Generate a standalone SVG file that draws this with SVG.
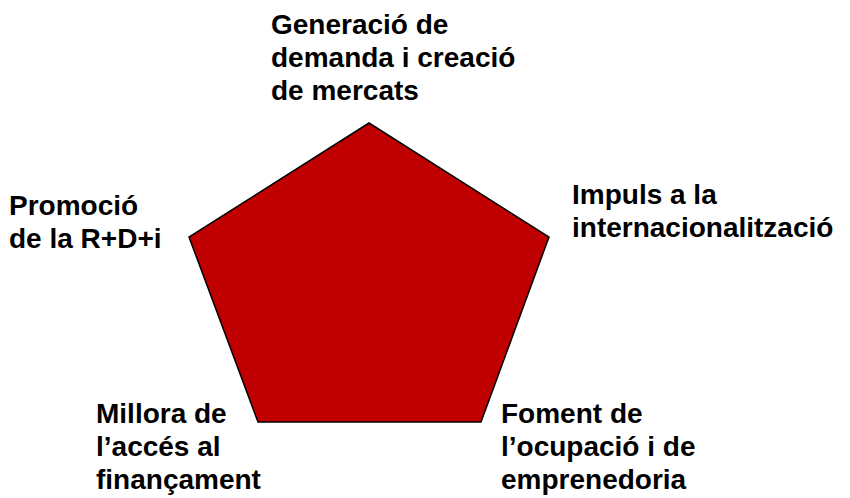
<svg xmlns="http://www.w3.org/2000/svg" width="850" height="498" viewBox="0 0 850 498">
<style>
.lbl{font-family:"Liberation Sans",Arial,sans-serif;font-weight:bold;font-size:28px;fill:#000}
.pent{fill:#C00000;stroke:#000;stroke-width:1.5;stroke-linejoin:miter}
</style>
<rect width="850" height="498" fill="#fff"/>
<g id="pentagon">
<polygon class="pent" points="369,123 549,237 481,422 258,422 189,237"/>
</g>
<g id="connectors"></g>
<g id="node-top">
<text class="lbl" x="271" y="34">Generació de</text>
<text class="lbl" x="271" y="67">demanda i creació</text>
<text class="lbl" x="271" y="100">de mercats</text>
</g>
<g id="node-left">
<text class="lbl" x="9" y="215">Promoció</text>
<text class="lbl" x="9" y="248">de la R+D+i</text>
</g>
<g id="node-right">
<text class="lbl" x="572" y="204">Impuls a la</text>
<text class="lbl" x="572" y="237">internacionalització</text>
</g>
<g id="node-bottom-left">
<text class="lbl" x="96" y="423">Millora de</text>
<text class="lbl" x="96" y="456">l’accés al</text>
<text class="lbl" x="96" y="489">finançament</text>
</g>
<g id="node-bottom-right">
<text class="lbl" x="501" y="423">Foment de</text>
<text class="lbl" x="501" y="456">l’ocupació i de</text>
<text class="lbl" x="501" y="489">emprenedoria</text>
</g>
</svg>
